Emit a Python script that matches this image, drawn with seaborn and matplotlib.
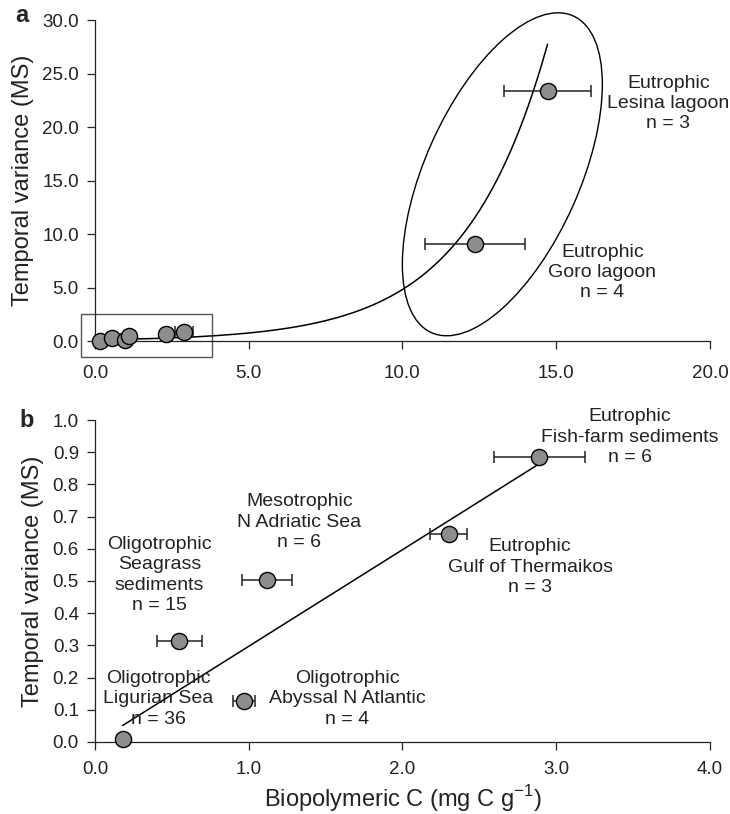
import numpy as np
import matplotlib
matplotlib.use("Agg")
import matplotlib.pyplot as plt
from matplotlib.patches import Ellipse, Rectangle
from matplotlib.transforms import ScaledTranslation
import seaborn as sns

# sites: biopolymeric C (mg C g-1) vs temporal variance (MS)
sites = ["Ligurian Sea", "Seagrass sediments", "Abyssal N Atlantic",
         "N Adriatic Sea", "Gulf of Thermaikos", "Fish-farm sediments"]
bpc = [0.18, 0.55, 0.97, 1.12, 2.30, 2.89]
bpc_err = [0.0, 0.145, 0.07, 0.163, 0.12, 0.295]
variance = [0.01, 0.315, 0.128, 0.503, 0.645, 0.885]

# eutrophic lagoons (panel a only)
lagoons = ["Goro lagoon", "Lesina lagoon"]
lagoon_bpc = [12.35, 14.72]
lagoon_err = [1.63, 1.41]
lagoon_var = [9.1, 23.4]

# fitted curves
exp_a, exp_b = 0.118, 0.371          # panel a: y = a * exp(b * x)
lin_slope, lin_icpt = 0.30, -0.003   # panel b: y = slope * x + icpt

sns.set_theme(style="ticks")
plt.rcParams["font.family"] = ["Liberation Sans", "DejaVu Sans"]
plt.rcParams["mathtext.fontset"] = "custom"
plt.rcParams["mathtext.rm"] = "Liberation Sans"

INK = "#222222"
FILL = "#8c8d8f"

fig = plt.figure(figsize=(7.3, 8.14), dpi=100)
ax_a = fig.add_axes([0.130, 0.581, 0.8425, 0.394])
ax_b = fig.add_axes([0.130, 0.0885, 0.8425, 0.3955])


def draw_points(ax, x, y, xerr):
    ax.errorbar(x, y, xerr=xerr, fmt="none", ecolor=INK, elinewidth=1.1,
                capsize=4, capthick=1.1, zorder=3, clip_on=False)
    sns.scatterplot(x=x, y=y, ax=ax, s=135, color=FILL, edgecolor="black",
                    linewidth=1.0, zorder=4, clip_on=False, legend=False)


def style_axis(ax):
    sns.despine(ax=ax)
    for sp in ("left", "bottom"):
        ax.spines[sp].set_color(INK)
        ax.spines[sp].set_linewidth(0.9)
    ax.tick_params(direction="out", length=5.5, width=0.9, colors=INK,
                   labelsize=13.5)
    ax.tick_params(axis="y", pad=6)
    ax.set_ylabel("Temporal variance (MS)", fontsize=17, color=INK, labelpad=6)


# ---- panel a ----
all_x = bpc + lagoon_bpc
xa = np.linspace(min(all_x), max(all_x), 300)
sns.lineplot(x=xa, y=exp_a * np.exp(exp_b * xa), ax=ax_a, color="black",
             linewidth=1.1, zorder=2)
draw_points(ax_a, bpc, variance, bpc_err)
draw_points(ax_a, lagoon_bpc, lagoon_var, lagoon_err)

ax_a.add_patch(Rectangle((-0.45, -1.5), 4.25, 4.0, fill=False,
                         edgecolor="#555555", linewidth=1.0, clip_on=False))
ell = Ellipse((0, 0), 1.546, 3.47, angle=-24.1, fill=False,
              edgecolor="black", linewidth=1.0, clip_on=False,
              transform=fig.dpi_scale_trans
              + ScaledTranslation(13.25, 15.6, ax_a.transData))
ax_a.add_patch(ell)

ax_a.set_xlim(0, 20)
ax_a.set_ylim(0, 30)
ax_a.set_xticks(np.arange(0, 20.1, 5))
ax_a.set_yticks(np.arange(0, 30.1, 5))
ax_a.xaxis.set_major_formatter("{x:.1f}")
ax_a.yaxis.set_major_formatter("{x:.1f}")
style_axis(ax_a)
ax_a.tick_params(axis="x", pad=12)

ax_a.text(18.65, 22.2, "Eutrophic\nLesina lagoon\nn = 3", ha="center",
          va="center", fontsize=14, color=INK, linespacing=1.25)
ax_a.text(16.5, 6.4, "Eutrophic\nGoro lagoon\nn = 4", ha="center",
          va="center", fontsize=14, color=INK, linespacing=1.25)

# ---- panel b ----
xb = np.linspace(min(bpc), max(bpc), 50)
sns.lineplot(x=xb, y=lin_slope * xb + lin_icpt, ax=ax_b, color="black",
             linewidth=1.1, zorder=2)
draw_points(ax_b, bpc, variance, bpc_err)

ax_b.set_xlim(0, 4)
ax_b.set_ylim(0, 1)
ax_b.set_xticks(np.arange(0, 4.1, 1))
ax_b.set_yticks(np.arange(0, 1.01, 0.1))
ax_b.xaxis.set_major_formatter("{x:.1f}")
ax_b.yaxis.set_major_formatter("{x:.1f}")
style_axis(ax_b)
ax_b.tick_params(axis="x", pad=8)
ax_b.set_xlabel(r"Biopolymeric C (mg C g$^{\mathregular{-1}}$)", fontsize=17,
                color=INK, labelpad=4)

notes_b = [
    (3.48, 0.947, "Eutrophic\nFish-farm sediments\nn = 6"),
    (2.83, 0.543, "Eutrophic\nGulf of Thermaikos\nn = 3"),
    (1.33, 0.683, "Mesotrophic\nN Adriatic Sea\nn = 6"),
    (0.42, 0.519, "Oligotrophic\nSeagrass\nsediments\nn = 15"),
    (0.41, 0.134, "Oligotrophic\nLigurian Sea\nn = 36"),
    (1.64, 0.134, "Oligotrophic\nAbyssal N Atlantic\nn = 4"),
]
for x, y, s in notes_b:
    ax_b.text(x, y, s, ha="center", va="center", fontsize=14, color=INK,
              linespacing=1.25)

fig.text(22 / 730, 1 - 15 / 814, "a", fontsize=17, fontweight="bold",
         ha="center", va="center")
fig.text(27 / 730, 1 - 420 / 814, "b", fontsize=17, fontweight="bold",
         ha="center", va="center")

fig.savefig("out.png", dpi=100)
